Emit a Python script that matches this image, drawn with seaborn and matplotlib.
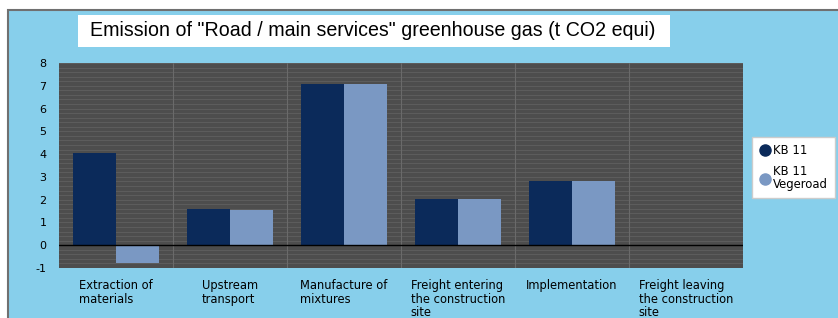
import matplotlib
matplotlib.use("Agg")
import matplotlib.pyplot as plt
from matplotlib.patches import Rectangle
from matplotlib.lines import Line2D
from matplotlib.ticker import MultipleLocator
import seaborn as sns
import pandas as pd

categories = ["Extraction of\nmaterials", "Upstream\ntransport", "Manufacture of\nmixtures",
              "Freight entering\nthe construction\nsite", "Implementation",
              "Freight leaving\nthe construction\nsite"]
kb11 = [4.07, 1.57, 7.1, 2.04, 2.82, 0.0]
kb11_vegeroad = [-0.77, 1.53, 7.1, 2.04, 2.82, 0.0]
series = ["KB 11", "KB 11\nVegeroad"]
colors = ["#0b2a5a", "#7a98c3"]
title = 'Emission of "Road / main services" greenhouse gas (t CO2 equi)'

df = pd.DataFrame({
    "category": categories * 2,
    "value": kb11 + kb11_vegeroad,
    "series": [series[0]] * len(categories) + [series[1]] * len(categories),
})

sns.set_theme(style="white")
plt.rcParams["font.family"] = ["DejaVu Sans"]
plt.rcParams["axes.unicode_minus"] = False

W, H = 838, 318
fig = plt.figure(figsize=(W / 100, H / 100), dpi=100, facecolor="white")

# sky blue frame with grey border
fig.patches.append(Rectangle((8 / W, -0.1), 1, 1.1 - 10 / H, transform=fig.transFigure,
                             facecolor="#87cfeb", edgecolor="#707070", linewidth=1.5, zorder=-2))
# white title box
fig.patches.append(Rectangle((78 / W, 1 - 47 / H), 592 / W, 32 / H, transform=fig.transFigure,
                             facecolor="white", edgecolor="none", zorder=-1))
fig.text(90 / W, 1 - 31 / H, title, fontsize=14.1, family="Liberation Sans",
         va="center", ha="left", color="black")

ax = fig.add_axes([59 / W, 1 - 268 / H, (743 - 59) / W, (268 - 63) / H])
ax.set_facecolor("#4d4d4d")
sns.barplot(data=df, x="category", y="value", hue="series", palette=colors,
            width=0.76, saturation=1, ax=ax, legend=False, zorder=3, linewidth=0)

ax.set_ylim(-1, 8)
ax.yaxis.set_major_locator(MultipleLocator(1))
ax.yaxis.set_minor_locator(MultipleLocator(0.2))
ax.grid(which="minor", axis="y", color="#5c5c5c", linewidth=0.8, zorder=0)
ax.grid(which="major", axis="y", color="#5c5c5c", linewidth=0.8, zorder=0)
for x in range(1, len(categories)):
    ax.axvline(x - 0.5, color="#6a6a6a", linewidth=0.8, zorder=1)
ax.axhline(0, color="black", linewidth=1.0, zorder=4)
ax.set_axisbelow(True)

for s in ax.spines.values():
    s.set_visible(False)
ax.set_xlabel("")
ax.set_ylabel("")
ax.tick_params(axis="y", labelsize=8, length=3, color="#888888", pad=6, labelcolor="black")
ax.tick_params(axis="x", length=0, pad=8)
ax.set_xticks(range(len(categories)))
ax.set_xticklabels(categories, fontsize=8.3, ha="center", va="top", multialignment="left",
                   color="black", linespacing=1.05)

handles = [Line2D([], [], marker="o", linestyle="none", markersize=8,
                  markerfacecolor=c, markeredgecolor=c) for c in colors]
leg = fig.legend(handles, series, loc="upper left", bbox_to_anchor=(752 / W, 1 - 137 / H),
                 fontsize=8.4, frameon=True, fancybox=False, edgecolor="#cccccc", facecolor="white",
                 framealpha=1, handletextpad=0.2, borderpad=0.6, labelspacing=0.65, handlelength=1.0,
                 borderaxespad=0)
for t in leg.get_texts():
    t.set_color("black")
    t.set_linespacing(1.0)

fig.savefig("out.png", dpi=100, facecolor=fig.get_facecolor())
